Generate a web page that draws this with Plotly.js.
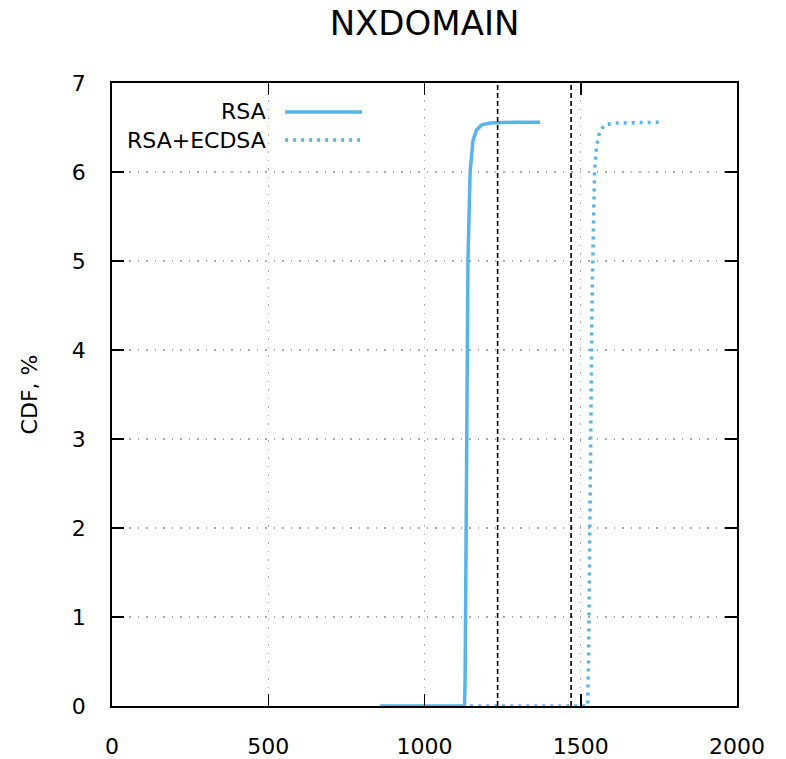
<!DOCTYPE html>
<html>
<head>
<meta charset="utf-8">
<script src="https://cdn.plot.ly/plotly-3.0.1.min.js"></script>
<style>html,body{margin:0;padding:0;background:#fff;}#chart{width:786px;height:759px;}</style>
</head>
<body>
<div id="chart"></div>
<script>
// Data
const seriesNames = ["RSA", "RSA+ECDSA"];
const rsaX = [858, 1128, 1130, 1134, 1139, 1146, 1155, 1166, 1183, 1210, 1290, 1370];
const rsaY = [0, 0, 0.3, 3.0, 5.0, 6.0, 6.35, 6.47, 6.53, 6.55, 6.56, 6.56];
const ecdsaX = [1146, 1522, 1525, 1530, 1536, 1544, 1551, 1560, 1576, 1610, 1700, 1763];
const ecdsaY = [0, 0, 0.5, 2.5, 4.5, 6.0, 6.3, 6.45, 6.53, 6.55, 6.56, 6.56];
const markerLinesX = [1234, 1469];
const xTicks = [0, 500, 1000, 1500, 2000];
const yTicks = [0, 1, 2, 3, 4, 5, 6, 7];

const blue = '#56B4E9';
const FONT = 'DejaVu Sans, sans-serif';

const traces = [
  {x: rsaX, y: rsaY, mode: 'lines', name: seriesNames[0], showlegend: false,
   line: {color: blue, width: 3.5}},
  {x: ecdsaX, y: ecdsaY, mode: 'lines', name: seriesNames[1], showlegend: false,
   line: {color: blue, width: 3.5, dash: '3px,5px'}}
];

const shapes = markerLinesX.map(v => ({
  type: 'line', xref: 'x', yref: 'paper', x0: v, x1: v, y0: 0, y1: 1,
  line: {color: '#000', width: 1.6, dash: '5px,3px'}
}));
// custom legend samples (gnuplot-style: key text left, sample right)
shapes.push({type: 'line', xref: 'paper', yref: 'paper', x0: 0.277, x1: 0.40, y0: 0.9535, y1: 0.9535,
  line: {color: blue, width: 3.5}});
shapes.push({type: 'line', xref: 'paper', yref: 'paper', x0: 0.277, x1: 0.40, y0: 0.9085, y1: 0.9085,
  line: {color: blue, width: 3.5, dash: '3px,5px'}});

const annotations = [
  {xref: 'paper', yref: 'paper', x: 0.2496, y: 0.9535, xanchor: 'right', yanchor: 'middle',
   text: seriesNames[0], showarrow: false, font: {family: FONT, size: 22, color: '#000'}},
  {xref: 'paper', yref: 'paper', x: 0.2496, y: 0.9085, xanchor: 'right', yanchor: 'middle',
   text: seriesNames[1], showarrow: false, font: {family: FONT, size: 22, color: '#000'}}
];

const layout = {
  width: 786, height: 759,
  margin: {l: 112, r: 49, t: 83, b: 53},
  paper_bgcolor: '#fff', plot_bgcolor: '#fff',
  font: {family: FONT, size: 22, color: '#000'},
  title: {text: 'NXDOMAIN', x: 0.5, xref: 'paper', xanchor: 'center', y: 0.97, yref: 'container', yanchor: 'middle',
          font: {family: FONT, size: 34, color: '#000'}},
  xaxis: {range: [0, 2000], tickvals: xTicks, ticktext: xTicks.map(String),
          showline: true, linecolor: '#000', linewidth: 1.8, mirror: 'ticks',
          ticks: 'inside', ticklen: 12, tickwidth: 1.5, tickcolor: '#000',
          showgrid: true, gridcolor: '#aaa', gridwidth: 1.2, griddash: '1.5px,7px',
          zeroline: false, ticklabelstandoff: 20,
          tickfont: {family: FONT, size: 22, color: '#000'}},
  yaxis: {range: [0, 7], tickvals: yTicks, ticktext: yTicks.map(String),
          showline: true, linecolor: '#000', linewidth: 1.8, mirror: 'ticks',
          ticks: 'inside', ticklen: 12, tickwidth: 1.5, tickcolor: '#000',
          showgrid: true, gridcolor: '#aaa', gridwidth: 1.2, griddash: '1.5px,7px',
          zeroline: false, ticklabelstandoff: 20,
          tickfont: {family: FONT, size: 22, color: '#000'},
          title: {text: 'CDF, %', standoff: 28, font: {family: FONT, size: 22, color: '#000'}}},
  shapes: shapes,
  annotations: annotations,
  showlegend: false
};

Plotly.newPlot('chart', traces, layout, {displayModeBar: false, staticPlot: true});
</script>
</body>
</html>
